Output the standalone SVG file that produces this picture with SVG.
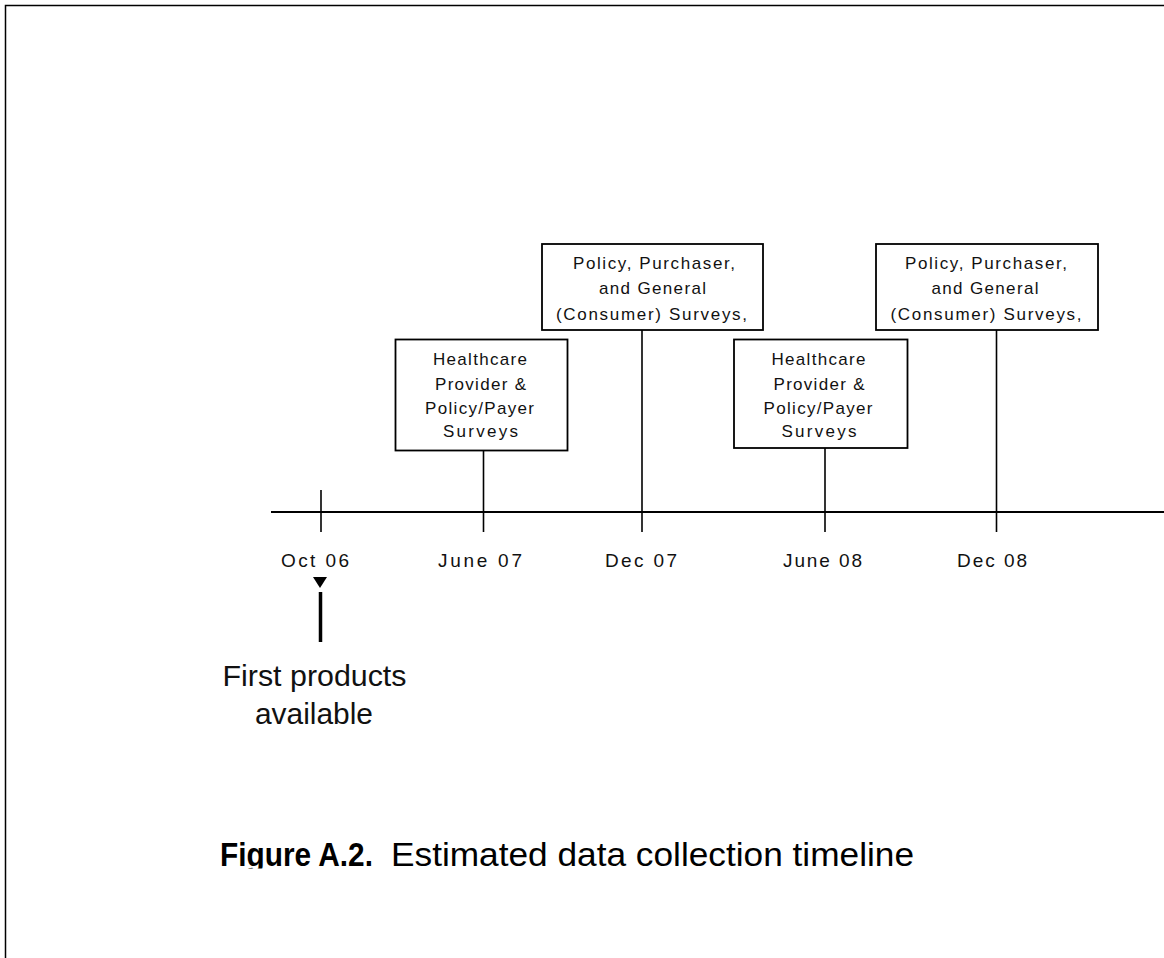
<svg xmlns="http://www.w3.org/2000/svg" width="1164" height="958" viewBox="0 0 1164 958">
<defs>
<style>
.frame{fill:none;stroke:#000;stroke-width:1.5}
.box{fill:#fff;stroke:#000;stroke-width:1.8}
.ln{stroke:#000;stroke-width:1.6;fill:none}
.axis{stroke:#000;stroke-width:2.2;fill:none}
.bt{font-family:"Liberation Sans",Arial,sans-serif;font-size:17px;fill:#111;text-anchor:middle}
.lab{font-family:"Liberation Sans",Arial,sans-serif;font-size:19px;fill:#111;text-anchor:middle}
.big{font-family:"Liberation Sans",Arial,sans-serif;font-size:29px;fill:#111;text-anchor:middle}
.cap{font-family:"Liberation Sans",Arial,sans-serif;font-size:33px;fill:#000}
</style>
<clipPath id="capclip"><rect x="0" y="820" width="1164" height="48.5"/></clipPath>
</defs>
<rect width="1164" height="958" fill="#fff"/>
<path class="frame" d="M5.5,958 V5.5 H1164"/>

<g id="connectors">
<line class="axis" x1="271" y1="512" x2="1164" y2="512"/>
<line class="ln" x1="321" y1="490" x2="321" y2="532"/>
<line class="ln" x1="483.5" y1="451" x2="483.5" y2="532"/>
<line class="ln" x1="642" y1="330" x2="642" y2="532"/>
<line class="ln" x1="825" y1="448" x2="825" y2="532"/>
<line class="ln" x1="996.5" y1="330" x2="996.5" y2="532"/>
<polygon points="313,577 327,577 320,588" fill="#000"/>
<line x1="320.5" y1="592" x2="320.5" y2="642" stroke="#000" stroke-width="3.5"/>
</g>

<g id="box1">
<rect class="box" x="395.5" y="339.5" width="172" height="111"/>
<text class="bt" x="480" y="365" textLength="94" lengthAdjust="spacing">Healthcare</text>
<text class="bt" x="480.5" y="390" textLength="91" lengthAdjust="spacing">Provider &amp;</text>
<text class="bt" x="479.5" y="414" textLength="109" lengthAdjust="spacing">Policy/Payer</text>
<text class="bt" x="480.5" y="437" textLength="75" lengthAdjust="spacing">Surveys</text>
</g>

<g id="box2">
<rect class="box" x="542" y="244" width="221" height="86"/>
<text class="bt" x="654" y="269" textLength="162" lengthAdjust="spacing">Policy, Purchaser,</text>
<text class="bt" x="652.5" y="294" textLength="107" lengthAdjust="spacing">and General</text>
<text class="bt" x="651.5" y="320" textLength="191" lengthAdjust="spacing">(Consumer) Surveys,</text>
</g>

<g id="box3">
<rect class="box" x="734" y="339.5" width="173.5" height="108.5"/>
<text class="bt" x="818.5" y="365" textLength="94" lengthAdjust="spacing">Healthcare</text>
<text class="bt" x="819" y="390" textLength="91" lengthAdjust="spacing">Provider &amp;</text>
<text class="bt" x="818" y="414" textLength="109" lengthAdjust="spacing">Policy/Payer</text>
<text class="bt" x="819" y="437" textLength="75" lengthAdjust="spacing">Surveys</text>
</g>

<g id="box4">
<rect class="box" x="876" y="244" width="222" height="86"/>
<text class="bt" x="986" y="269" textLength="162" lengthAdjust="spacing">Policy, Purchaser,</text>
<text class="bt" x="985" y="294" textLength="107" lengthAdjust="spacing">and General</text>
<text class="bt" x="986" y="320" textLength="191" lengthAdjust="spacing">(Consumer) Surveys,</text>
</g>

<g id="labels">
<text class="lab" x="315" y="567" textLength="68" lengthAdjust="spacing">Oct 06</text>
<text class="lab" x="480" y="567" textLength="84" lengthAdjust="spacing">June 07</text>
<text class="lab" x="641" y="567" textLength="72" lengthAdjust="spacing">Dec 07</text>
<text class="lab" x="822.5" y="567" textLength="79" lengthAdjust="spacing">June 08</text>
<text class="lab" x="992" y="567" textLength="70" lengthAdjust="spacing">Dec 08</text>
</g>

<g id="first-products">
<text class="big" x="314.5" y="686" textLength="184" lengthAdjust="spacingAndGlyphs">First products</text>
<text class="big" x="314" y="724" textLength="118" lengthAdjust="spacingAndGlyphs">available</text>
</g>

<g id="caption" clip-path="url(#capclip)">
<text class="cap" x="220" y="866" font-weight="bold" textLength="153" lengthAdjust="spacingAndGlyphs">Figure A.2.</text>
<text class="cap" x="391" y="866" textLength="523" lengthAdjust="spacingAndGlyphs">Estimated data collection timeline</text>
</g>
</svg>
